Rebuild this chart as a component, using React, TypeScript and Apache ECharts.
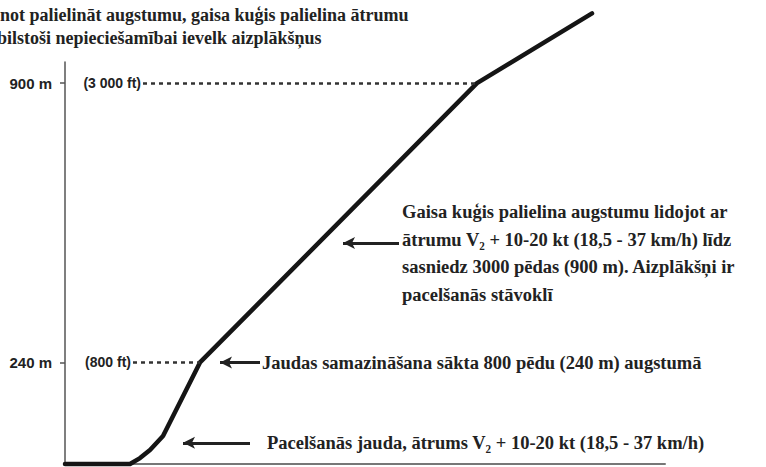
import React, { useEffect, useRef } from "react";
import * as echarts from "echarts";

// Flight path (horizontal distance in arbitrary units, altitude in metres)
const distance = [0, 65, 75, 85, 98, 135, 412, 527];
const altitude = [0, 0, 14, 33, 66, 240, 900, 1065];

// Reference altitudes on the axis
const altitudeTicks = [240, 900];
const altitudeFeet = ["(800 ft)", "(3 000 ft)"];
const dotStart = [68, 78];
const dotEnd = [135, 412];

// Annotation texts
const topNote = [
  "not palielināt augstumu, gaisa kuģis palielina ātrumu",
  "bilstoši nepieciešamībai ievelk aizplākšņus",
];
const climbNote = [
  "Gaisa kuģis palielina augstumu lidojot ar",
  "ātrumu V₂ + 10-20 kt (18,5 - 37 km/h) līdz",
  "sasniedz 3000 pēdas (900 m). Aizplākšņi ir",
  "pacelšanās stāvoklī",
];
const thrustNote = "Jaudas samazināšana sākta 800 pēdu (240 m) augstumā";
const takeoffNote = "Pacelšanās jauda, ātrums V₂ + 10-20 kt (18,5 - 37 km/h)";

// Arrows: [tipX, tipY, tailX, tailY] in data units
const arrows = [
  [418, 950, 373, 999],
  [278, 522, 334, 522],
  [155, 240, 195, 240],
  [118, 50, 185, 50],
];

const SERIF = "'Liberation Serif', 'DejaVu Serif', serif";
const SANS = "'Liberation Sans', Arial, sans-serif";
const TXT = "#222";

export default function App() {
  const ref = useRef<HTMLDivElement>(null);
  useEffect(() => {
    if (!ref.current) return;
    const chart = echarts.init(ref.current, undefined, { renderer: "svg" });

    const textStyle = (s: string, x: number, y: number, size = 18.5) => ({
      type: "text",
      x,
      y,
      style: {
        text: s,
        fill: TXT,
        font: `bold ${size}px ${SERIF}`,
        textVerticalAlign: "middle",
      },
    });

    const graphics: any[] = [];
    graphics.push(textStyle(topNote[0], 0, 15, 18));
    graphics.push(textStyle(topNote[1], -3, 38, 18));
    climbNote.forEach((l, i) => graphics.push(textStyle(l, 402, 212 + i * 27.5)));
    graphics.push(textStyle(thrustNote, 262, 363));
    graphics.push(textStyle(takeoffNote, 267, 443));

    const dotted = altitudeTicks.map((v, i) => [
      {
        coord: [dotStart[i], v],
        symbol: "none",
        lineStyle: { type: [4, 4], width: 2.5, color: "#333" },
        label: {
          show: true,
          position: "start",
          formatter: altitudeFeet[i],
          distance: 2,
          fontFamily: SANS,
          fontWeight: "bold",
          fontSize: 14,
          color: TXT,
        },
      },
      { coord: [dotEnd[i], v], symbol: "none" },
    ]);

    const arrowLines = arrows.map((a) => [
      {
        coord: [a[0], a[1]],
        symbol: "arrow",
        symbolSize: [9, 12],
        lineStyle: { type: "solid", width: 3, color: "#222" },
        label: { show: false },
      },
      { coord: [a[2], a[3]], symbol: "none" },
    ]);

    chart.setOption({
      animation: false,
      backgroundColor: "#fff",
      grid: { left: 65, right: 101, top: 62, bottom: 3, containLabel: false },
      xAxis: {
        type: "value",
        min: 0,
        max: 600,
        axisLine: { show: true, lineStyle: { color: "#777", width: 2 } },
        axisTick: { show: false },
        axisLabel: { show: false },
        splitLine: { show: false },
      },
      yAxis: {
        type: "value",
        min: 0,
        max: 950,
        axisLine: { show: true, lineStyle: { color: "#555", width: 1.5 } },
        axisTick: {
          show: true,
          customValues: altitudeTicks,
          length: 5,
          lineStyle: { color: "#555", width: 1.5 },
        },
        axisLabel: {
          show: true,
          customValues: altitudeTicks,
          formatter: (v: number) => `${v} m`,
          margin: 13,
          fontFamily: SANS,
          fontWeight: "bold",
          fontSize: 15,
          color: TXT,
        },
        splitLine: { show: false },
      },
      series: [
        {
          type: "line",
          data: distance.map((d, i) => [d, altitude[i]]),
          showSymbol: false,
          symbol: "none",
          clip: false,
          lineStyle: { color: "#151515", width: 4.5, join: "round", cap: "round" },
          markLine: {
            silent: true,
            symbol: ["none", "none"],
            animation: false,
            data: [...dotted, ...arrowLines],
          },
        },
      ],
      graphic: graphics,
    });
    return () => chart.dispose();
  }, []);
  return (
    <div
      ref={ref}
      style={{ position: "absolute", left: 0, top: 0, width: 766, height: 467 }}
    />
  );
}
